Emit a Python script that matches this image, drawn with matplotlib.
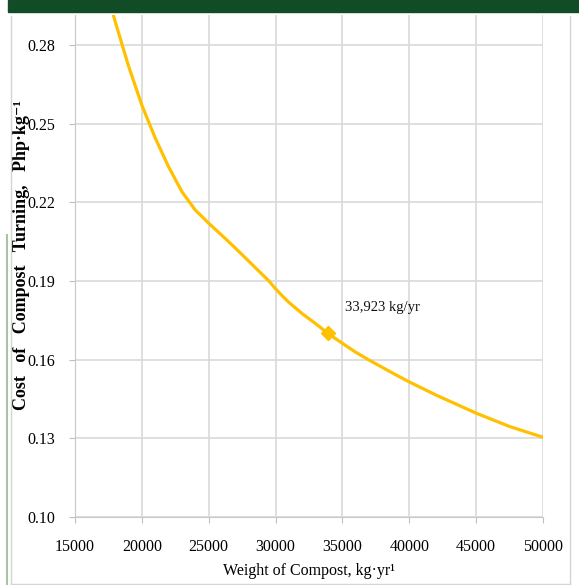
import matplotlib
matplotlib.use("Agg")
import matplotlib.pyplot as plt
from matplotlib.patches import Rectangle
from matplotlib.lines import Line2D

# values
weight = [17700, 18000, 19000, 20000, 21000, 22000, 23000, 24000, 25000,
          26000, 27000, 28000, 29000, 29500, 30000, 30500, 31000, 32000, 33000,
          33923, 35000, 36000, 37000, 38000, 39000, 40000, 42000, 45000, 47500, 50000]
cost = [0.2945, 0.2890, 0.2720, 0.2570, 0.2445, 0.2335, 0.2240, 0.2170, 0.2120,
        0.2073, 0.2025, 0.1975, 0.1925, 0.1900, 0.1870, 0.1843, 0.1818, 0.1775, 0.1737,
        0.1700, 0.1662, 0.1628, 0.1598, 0.1570, 0.1542, 0.1515, 0.1465, 0.1396, 0.1345, 0.1304]

opt_weight = 33923
opt_cost = 0.1700
opt_label = "33,923 kg/yr"

xticks = [15000, 20000, 25000, 30000, 35000, 40000, 45000, 50000]
yticks = [0.10, 0.13, 0.16, 0.19, 0.22, 0.25, 0.28]

GOLD = "#FFC000"
GRID = "#d9d9d9"
SERIF = ["Liberation Serif", "DejaVu Serif"]

fig = plt.figure(figsize=(5.79, 5.85), dpi=100)
fig.patch.set_facecolor("white")

# green band on top and the frame around the chart
fig.patches.append(Rectangle((8 / 579, 1 - 12 / 585), 1, 12 / 585,
                             transform=fig.transFigure, color="#124c27", zorder=0))
fr = "#d4d4d4"
fig.lines.append(Line2D([11 / 579, 11 / 579], [1 - 16 / 585, 1 - 584 / 585],
                        transform=fig.transFigure, color=fr, lw=1))
fig.lines.append(Line2D([570 / 579, 570 / 579], [1 - 16 / 585, 1 - 584 / 585],
                        transform=fig.transFigure, color=fr, lw=1))
fig.lines.append(Line2D([11 / 579, 570 / 579], [1 - 584 / 585, 1 - 584 / 585],
                        transform=fig.transFigure, color=fr, lw=1))
fig.lines.append(Line2D([7.5 / 579, 7.5 / 579], [1 - 235 / 585, 0],
                        transform=fig.transFigure, color="#a9c4a3", lw=1.5))

ax = fig.add_axes([75 / 579, 1 - 517 / 585, 468 / 579, 502 / 585])
ax.plot(weight, cost, color=GOLD, lw=2.3, solid_joinstyle="round", zorder=3)
ax.plot([opt_weight], [opt_cost], marker="D", color=GOLD, markersize=7, zorder=4)
ax.text(opt_weight + 1250, 0.1797, opt_label, family=SERIF, fontsize=10.5,
        ha="left", va="center", color="#111111")

ax.set_xlim(15000, 50000)
ax.set_ylim(0.10, 0.2914)
ax.set_xticks(xticks)
ax.set_yticks(yticks)
ax.set_xticklabels([str(t) for t in xticks], family=SERIF, fontsize=11.5)
ax.set_yticklabels([f"{t:.2f}" for t in yticks], family=SERIF, fontsize=11.5)
ax.tick_params(axis="x", length=4, color="#bfbfbf", pad=12)
ax.tick_params(axis="y", length=4, color="#bfbfbf", pad=10)

ax.grid(True, color=GRID, lw=1.2)
ax.set_axisbelow(True)
for side in ["top", "right"]:
    ax.spines[side].set_visible(False)
for side in ["left", "bottom"]:
    ax.spines[side].set_color("#c8c8c8")

ax.set_xlabel("Weight of Compost, kg·yr¹", family=SERIF, fontsize=11.5)
ax.xaxis.set_label_coords(0.5, -0.092)
ax.set_ylabel("Cost   of   Compost   Turning,   Php·kg⁻¹", family=SERIF,
              fontsize=13, fontweight="bold")
ax.yaxis.set_label_coords(-0.096, 0.522)

fig.savefig("out.png", dpi=100)
